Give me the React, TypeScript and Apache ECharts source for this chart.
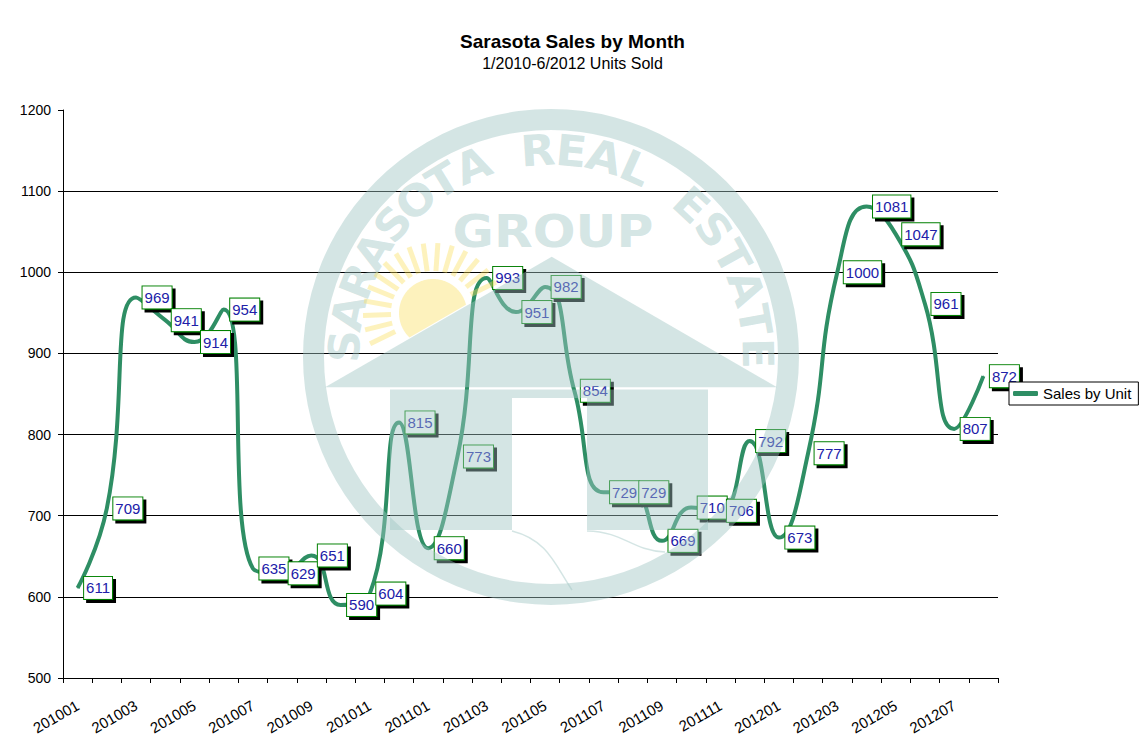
import React, { useEffect, useRef } from "react";
import * as echarts from "echarts";

// ---------------- data ----------------
const months = [
  "201001", "201002", "201003", "201004", "201005", "201006", "201007", "201008",
  "201009", "201010", "201011", "201012", "201101", "201102", "201103", "201104",
  "201105", "201106", "201107", "201108", "201109", "201110", "201111", "201112",
  "201201", "201202", "201203", "201204", "201205", "201206", "201207", "201208",
];
const salesByUnit = [
  611, 709, 969, 941, 914, 954, 635, 629,
  651, 590, 604, 815, 660, 773, 993, 951,
  982, 854, 729, 729, 669, 710, 706, 792,
  673, 777, 1000, 1081, 1047, 961, 807, 872,
];
const seriesName = "Sales by Unit";
const chartTitle = "Sarasota Sales by Month";
const chartSubtitle = "1/2010-6/2012 Units Sold";
const yMin = 500;
const yMax = 1200;
const yStep = 100;
const watermarkArcText = "SARASOTA REAL ESTATE";
const watermarkCenterText = "GROUP";

const FONT = 'Arial, "Liberation Sans", sans-serif';
const WM_FONT = '"DejaVu Sans", Arial, sans-serif';
const LINE_GREEN = "#2E8E64";

// ---------------- watermark (decoration overlay) ----------------
function buildWatermark(): any[] {
  const cx = 551;
  const cy = 357;
  const tint = "rgb(160,198,196)";
  const op = 0.45;
  const els: any[] = [];
  const common = { silent: true, z: 100 };

  // outer ring
  els.push({
    type: "ring",
    ...common,
    shape: { cx, cy, r: 248, r0: 227 },
    style: { fill: tint, opacity: op },
  });

  // curved text
  const chars = watermarkArcText.split("");
  const startDeg = 177;
  const endDeg = 1;
  const stepDeg = (startDeg - endDeg) / (chars.length - 1);
  const rText = 207;
  chars.forEach((ch, i) => {
    if (ch === " ") return;
    const th = ((startDeg - i * stepDeg) * Math.PI) / 180;
    els.push({
      type: "text",
      ...common,
      x: cx + rText * Math.cos(th),
      y: cy - rText * Math.sin(th),
      rotation: th - Math.PI / 2,
      scaleX: 1.05,
      style: {
        text: ch,
        fill: tint,
        opacity: op,
        fontSize: 43,
        fontWeight: "bold",
        fontFamily: WM_FONT,
        align: "center",
        verticalAlign: "middle",
        textAlign: "center",
        textVerticalAlign: "middle",
      },
    });
  });

  // GROUP
  els.push({
    type: "text",
    ...common,
    x: 553,
    y: 231,
    scaleX: 1.12,
    style: {
      text: watermarkCenterText,
      fill: tint,
      opacity: op,
      fontSize: 45,
      fontWeight: "bold",
      fontFamily: WM_FONT,
      align: "center",
      verticalAlign: "middle",
      textAlign: "center",
      textVerticalAlign: "middle",
    },
  });

  // roof geometry
  const eaveL = [325, 387.3];
  const apex = [551.7, 256.7];
  const eaveR = [777, 387.3];
  const roofY = (x: number) =>
    eaveL[1] + ((apex[1] - eaveL[1]) * (x - eaveL[0])) / (apex[0] - eaveL[0]);

  // sun disc (only the part above the roof line)
  const sx = 433;
  const sy = 313;
  const sr = 34;
  const sunFill = "rgb(250,222,90)";
  const sunOp = 0.4;
  const disc: number[][] = [];
  for (let k = 0; k <= 180; k++) {
    const a = (k * 2 * Math.PI) / 180;
    const px = sx + sr * Math.cos(a);
    const py = sy - sr * Math.sin(a);
    if (py < roofY(px)) disc.push([px, py]);
  }
  els.push({
    type: "polygon",
    ...common,
    shape: { points: disc },
    style: { fill: sunFill, opacity: sunOp },
  });
  // sun rays
  for (let deg = 26; deg <= 214; deg += 12) {
    const a = (deg * Math.PI) / 180;
    let x1 = sx + 42 * Math.cos(a);
    let y1 = sy - 42 * Math.sin(a);
    let x2 = sx + 70 * Math.cos(a);
    let y2 = sy - 70 * Math.sin(a);
    const above1 = y1 < roofY(x1) - 2;
    const above2 = y2 < roofY(x2) - 2;
    if (!above1 && !above2) continue;
    if (above1 !== above2) {
      let lo = 0;
      let hi = 1;
      for (let it = 0; it < 30; it++) {
        const m = (lo + hi) / 2;
        const mx = x1 + (x2 - x1) * m;
        const my = y1 + (y2 - y1) * m;
        const ab = my < roofY(mx) - 2;
        if (ab === above1) lo = m;
        else hi = m;
      }
      const mx = x1 + (x2 - x1) * lo;
      const my = y1 + (y2 - y1) * lo;
      if (above1) {
        x2 = mx;
        y2 = my;
      } else {
        x1 = mx;
        y1 = my;
      }
    }
    els.push({
      type: "line",
      ...common,
      shape: { x1, y1, x2, y2 },
      style: { stroke: sunFill, lineWidth: 5, opacity: sunOp },
    });
  }

  // roof
  els.push({
    type: "polygon",
    ...common,
    shape: { points: [eaveL, apex, eaveR] },
    style: { fill: tint, opacity: op },
  });
  // house body with door opening
  els.push({
    type: "polygon",
    ...common,
    shape: {
      points: [
        [390, 389.5], [708, 389.5], [708, 530], [587, 530],
        [587, 398], [512, 398], [512, 530], [390, 530],
      ],
    },
    style: { fill: tint, opacity: op },
  });
  // river lines
  els.push({
    type: "bezierCurve",
    ...common,
    shape: { x1: 512, y1: 531, cpx1: 548, cpy1: 540, cpx2: 555, cpy2: 565, x2: 572, y2: 590 },
    style: { stroke: tint, lineWidth: 1.5, fill: "none", opacity: op },
  });
  els.push({
    type: "bezierCurve",
    ...common,
    shape: { x1: 587, y1: 531, cpx1: 625, cpy1: 532, cpx2: 630, cpy2: 550, x2: 665, y2: 552 },
    style: { stroke: tint, lineWidth: 1.5, fill: "none", opacity: op },
  });
  return els;
}

// ---------------- option ----------------
function buildOption(): any {
  const nSplit = Math.round((yMax - yMin) / yStep) + 1;
  const splitColors = Array.from({ length: nSplit }, (_, i) =>
    i === nSplit - 1 ? "rgba(0,0,0,0)" : "#000"
  );
  return {
    animation: false,
    backgroundColor: "#fff",
    textStyle: { fontFamily: FONT },
    title: {
      text: chartTitle,
      subtext: chartSubtitle,
      left: "center",
      top: 26,
      itemGap: 3,
      textStyle: { fontSize: 19, fontWeight: "bold", color: "#000", fontFamily: FONT, lineHeight: 20 },
      subtextStyle: { fontSize: 16, color: "#000", fontFamily: FONT, lineHeight: 18 },
    },
    legend: {
      data: [seriesName],
      left: 1009,
      top: 382,
      orient: "horizontal",
      borderColor: "#000",
      borderWidth: 1,
      borderRadius: 0,
      padding: [4, 7, 4, 4],
      backgroundColor: "#fff",
      itemWidth: 25,
      itemHeight: 5,
      icon: "roundRect",
      textStyle: { fontSize: 15, color: "#000", fontFamily: FONT },
    },
    grid: { left: 63, top: 110, width: 935, height: 568 },
    xAxis: {
      type: "category",
      data: months,
      boundaryGap: true,
      axisLine: { show: true, lineStyle: { color: "#000", width: 1 } },
      axisTick: { show: true, interval: 0, length: 5, lineStyle: { color: "#000" } },
      axisLabel: {
        interval: 1,
        rotate: 30,
        margin: 26,
        fontSize: 15,
        color: "#000",
        fontFamily: FONT,
      },
      splitLine: { show: false },
    },
    yAxis: {
      type: "value",
      min: yMin,
      max: yMax,
      interval: yStep,
      axisLine: { show: true, lineStyle: { color: "#000", width: 1 } },
      axisTick: { show: true, length: 5, lineStyle: { color: "#000" } },
      axisLabel: {
        margin: 12,
        fontSize: 14,
        color: "#000",
        fontFamily: FONT,
        formatter: (v: number) => String(v),
      },
      splitLine: { show: true, lineStyle: { color: splitColors, width: 1 } },
    },
    series: [
      {
        name: seriesName,
        type: "line",
        data: salesByUnit,
        smooth: 0.5,
        symbol: "circle",
        symbolSize: 1,
        showSymbol: true,
        showAllSymbol: true,
        lineStyle: { color: LINE_GREEN, width: 4 },
        itemStyle: { color: LINE_GREEN },
        label: {
          show: true,
          position: "right",
          distance: 6,
          color: "#2020A8",
          fontSize: 15,
          fontFamily: FONT,
          backgroundColor: "#fff",
          borderColor: "#008000",
          borderWidth: 1,
          padding: [4, 2, 3, 2],
          shadowColor: "#000",
          shadowOffsetX: 3,
          shadowOffsetY: 3,
          shadowBlur: 0,
        },
        emphasis: { disabled: true },
      },
    ],
    graphic: { elements: buildWatermark() },
  };
}

export default function App() {
  const ref = useRef<HTMLDivElement>(null);
  useEffect(() => {
    if (!ref.current) return;
    const chart = echarts.init(ref.current, null, { renderer: "svg" });
    chart.setOption(buildOption());
    return () => {
      chart.dispose();
    };
  }, []);
  return (
    <div
      ref={ref}
      style={{ position: "absolute", left: 0, top: 0, width: 1145, height: 751, background: "#fff" }}
    />
  );
}
